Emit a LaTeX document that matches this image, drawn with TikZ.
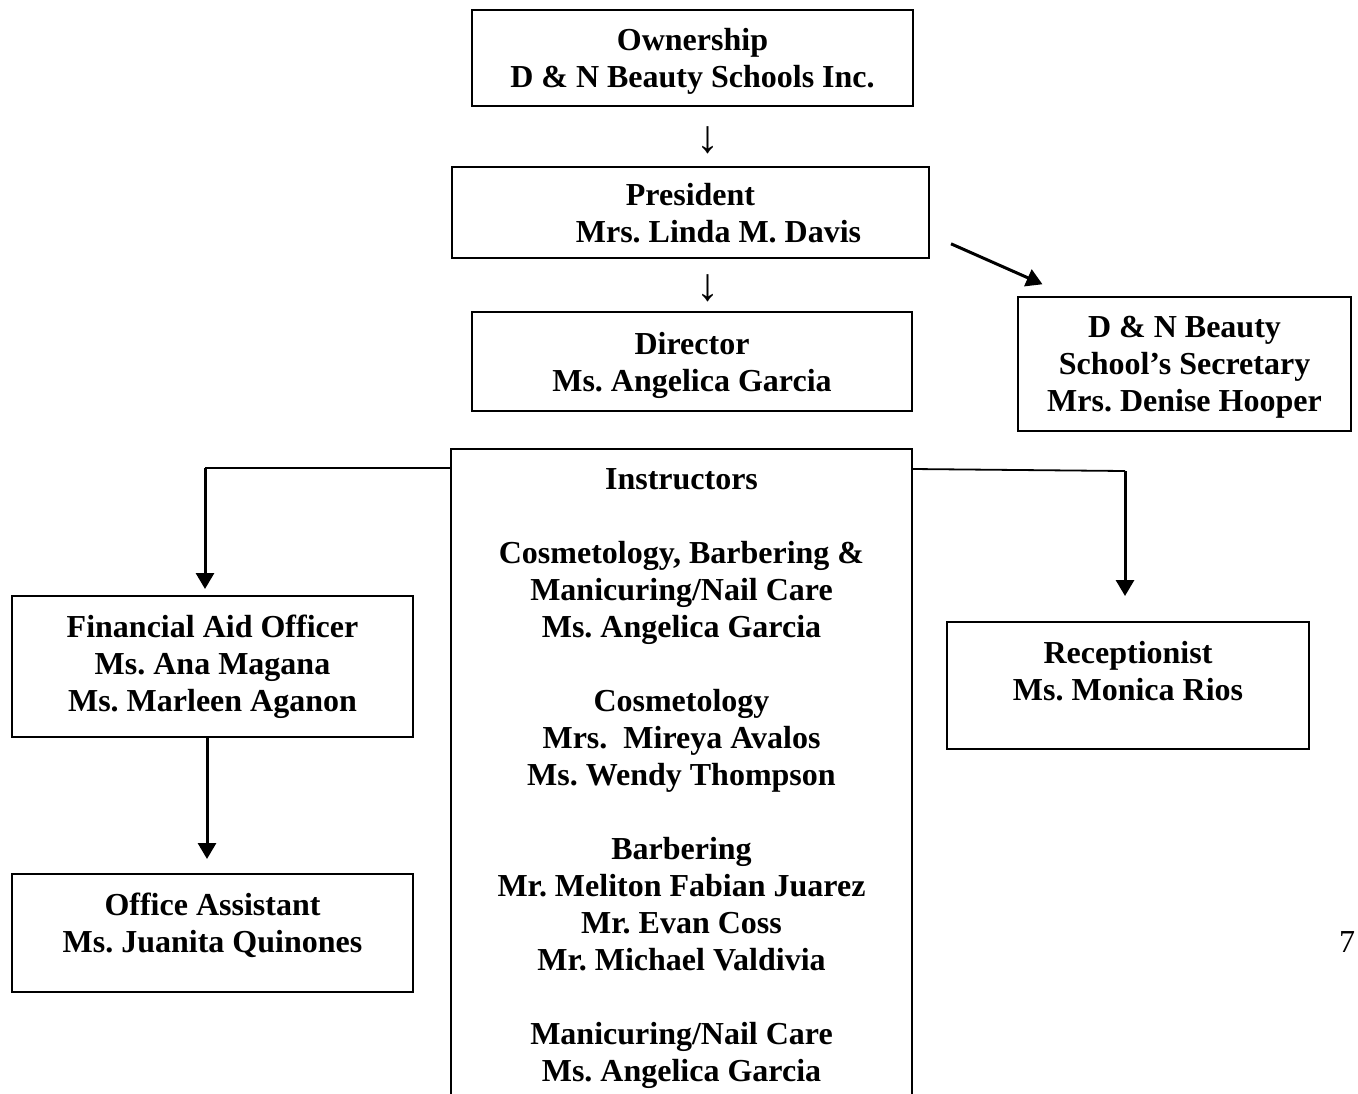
\documentclass[tikz,border=0pt]{standalone}
\usepackage{fontspec}
\setmainfont{Liberation Serif}
\usepackage{tikz}
\usetikzlibrary{arrows.meta,calc}
\frenchspacing

\begin{document}
\begin{tikzpicture}[x=0.5pt,y=-0.5pt,>={Triangle[width=9pt,length=8pt]},
                    font=\fontsize{16}{18.5}\selectfont\bfseries]
  \tikzstyle{office}=[rectangle,draw=black,line width=1pt,align=center,inner sep=0pt]
  \tikzstyle{link}=[line width=0.9pt]
  \tikzstyle{drop}=[->,line width=1.5pt]
  \tikzstyle{plaintext}=[font=\fontsize{16}{18.5}\selectfont\mdseries]
  \tikzstyle{downtext}=[font=\fontsize{23}{24}\selectfont\mdseries]

  \useasboundingbox (0,0) rectangle (1358,1093);
  \clip (0,0) rectangle (1358,1093);

  % top of the chart
  \node[office,minimum width=220.5pt,minimum height=48pt,text depth=-1.1pt] (own) at (692.5,58)
    {Ownership\\D \& N Beauty Schools Inc.};
  \node[downtext] (down1) at (708,140) {↓};
  \node[office,minimum width=238.5pt,minimum height=45.5pt,text depth=-4pt] (pres) at (690.5,212.5)
    {President\\\hspace*{1.75em}Mrs. Linda M. Davis};
  \node[downtext] (down2) at (708,288) {↓};
  \node[office,minimum width=220pt,minimum height=49.5pt,text depth=-0.5pt] (dir) at (692,361.5)
    {Director\\Ms. Angelica Garcia};
  \node[office,minimum width=166.5pt,minimum height=67pt,text depth=-0.5pt] (sec) at (1184.5,364)
    {D \& N Beauty\\School’s Secretary\\Mrs. Denise Hooper};

  % staff
  \node[office,minimum width=230.5pt,anchor=north,inner ysep=10pt,text depth=30pt] (instr) at (681.5,448)
    {Instructors\\[18.5pt]
     Cosmetology, Barbering \&\\Manicuring/Nail Care\\Ms. Angelica Garcia\\[18.5pt]
     Cosmetology\\Mrs.\ \ Mireya Avalos\\Ms. Wendy Thompson\\[18.5pt]
     Barbering\\Mr. Meliton Fabian Juarez\\Mr. Evan Coss\\Mr. Michael Valdivia\\[18.5pt]
     Manicuring/Nail Care\\Ms. Angelica Garcia};
  \node[office,minimum width=200.5pt,minimum height=70.5pt] (fin) at (212.5,666.5)
    {Financial Aid Officer\\Ms. Ana Magana\\Ms. Marleen Aganon};
  \node[office,minimum width=200.5pt,minimum height=59pt,text depth=10pt] (off) at (212.5,933)
    {Office Assistant\\Ms. Juanita Quinones};
  \node[office,minimum width=181pt,minimum height=63.5pt,text depth=15pt] (rec) at (1128,685.5)
    {Receptionist\\Ms. Monica Rios};

  \node[plaintext] (page) at (1347,942) {7};

  % connectors
  \coordinate (lstart) at ([yshift=-10pt]instr.north west);
  \coordinate (ltop) at ([xshift=-3.75pt]fin.north);
  \coordinate (rstart) at ([yshift=-10.5pt]instr.north east);
  \coordinate (rtop) at ([xshift=-1.5pt]rec.north);
  \draw[drop,shorten <=11.5pt,shorten >=14.5pt] ([yshift=-11pt]pres.east) -- ([xshift=26pt]sec.north west);
  \draw[link] (lstart) -- (lstart -| ltop);
  \draw[drop,shorten >=3pt] (lstart -| ltop) -- (ltop);
  \draw[link] (rstart) -- ([yshift=-1pt]rstart -| rtop);
  \draw[drop,shorten >=12.5pt] ([yshift=-1pt]rstart -| rtop) -- (rtop);
  \draw[drop,shorten >=7pt] ([xshift=-2.75pt]fin.south) -- ([xshift=-2.75pt]off.north);
\end{tikzpicture}
\end{document}
